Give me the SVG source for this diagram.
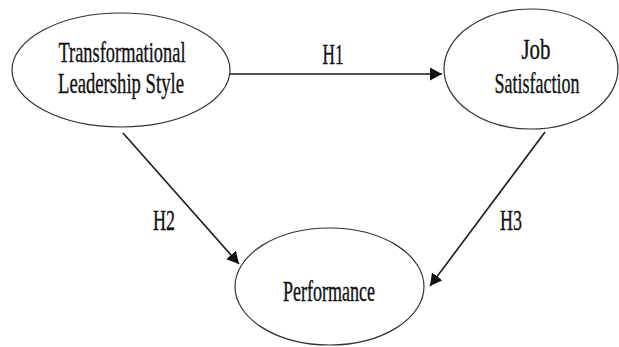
<svg xmlns="http://www.w3.org/2000/svg" width="619" height="347" viewBox="0 0 619 347">
<defs>
<style>
.node ellipse{fill:#fff;stroke:#333;stroke-width:1.2}
text{font-family:"Liberation Serif","Times New Roman",serif;font-size:29px;fill:#111;stroke:#111;stroke-width:0.35;text-anchor:middle}
.edge{stroke:#1a1a1a;stroke-width:1.6;fill:none;marker-end:url(#ah)}
</style>
<marker id="ah" markerUnits="userSpaceOnUse" markerWidth="14" markerHeight="14" refX="12" refY="6.5" orient="auto">
<path d="M0,0 L12,6.5 L0,13 Z" fill="#111"/>
</marker>
</defs>
<rect width="619" height="347" fill="#fff"/>
<g id="connectors">
<line class="edge" x1="230" y1="74" x2="442" y2="74"/>
<line class="edge" x1="123" y1="133" x2="239" y2="264"/>
<line class="edge" x1="545" y1="132" x2="430" y2="286"/>
<text x="333" y="64" textLength="21" lengthAdjust="spacingAndGlyphs">H1</text>
<text x="164" y="230" textLength="22" lengthAdjust="spacingAndGlyphs">H2</text>
<text x="511" y="230" textLength="22" lengthAdjust="spacingAndGlyphs">H3</text>
</g>
<g id="tls" class="node">
<ellipse cx="121" cy="70" rx="109" ry="57"/>
<text x="122" y="62" textLength="127" lengthAdjust="spacingAndGlyphs">Transformational</text>
<text x="121" y="93" textLength="126" lengthAdjust="spacingAndGlyphs">Leadership Style</text>
</g>
<g id="js" class="node">
<ellipse cx="531" cy="69" rx="87" ry="60"/>
<text x="536" y="59" textLength="29" lengthAdjust="spacingAndGlyphs">Job</text>
<text x="537" y="93" textLength="85" lengthAdjust="spacingAndGlyphs">Satisfaction</text>
</g>
<g id="perf" class="node">
<ellipse cx="329.5" cy="286.5" rx="94.5" ry="58.5"/>
<text x="329" y="301" textLength="92" lengthAdjust="spacingAndGlyphs">Performance</text>
</g>
</svg>
